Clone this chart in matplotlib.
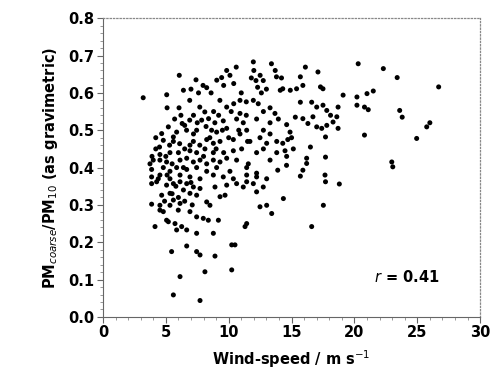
import numpy as np
import matplotlib.pyplot as plt
from matplotlib.ticker import MultipleLocator

# wind speed (m/s) and PMcoarse/PM10 ratio
wind_speed = [
    3.2, 6.07, 5.07, 5.1, 6.05, 6.4, 7.0, 7.4, 7.96, 8.25, 9.05, 9.44, 9.84, 10.1, 10.6,
    11.96, 12.0, 12.17, 12.5, 12.75, 13.4, 13.7, 13.8, 14.2, 14.1, 14.3, 14.9, 15.4, 15.9,
    15.7, 16.1, 17.1, 17.3, 17.5, 19.1, 20.3, 20.2, 21.0, 21.5, 22.3, 23.4, 26.7,
    20.2, 20.8, 21.1, 23.6, 23.8, 25.75, 26.0, 24.95, 20.8, 22.97, 23.05, 17.7, 17.7,
    17.7, 18.8, 16.5, 16.2, 15.9, 15.7, 13.9, 14.6, 15.0, 14.7, 14.3,
    15.9, 16.3, 16.7, 17.0, 17.5, 17.8, 18.1, 18.6, 18.7, 17.0, 17.4, 17.8, 18.3, 18.7,
    15.7, 16.6,
    9.6, 12.3, 13.0, 11.8, 10.4, 8.6, 7.6, 6.9, 11.0, 12.6,
    9.3, 9.84, 10.4, 10.9, 11.4, 11.96, 12.35,
    7.7, 8.1, 8.4, 7.85, 7.2, 6.9, 6.5, 6.3, 6.65,
    5.2, 4.67, 4.5, 4.8, 5.6, 6.1, 5.3,
    12.76, 13.29, 13.68, 10.9, 11.4,
    9.57, 10.63, 11.16, 12.22, 13.29, 13.95, 14.61, 8.9, 15.3,
    7.45, 8.64, 9.04, 9.84, 10.9, 11.43, 12.76, 13.29, 14.88, 7.2, 5.86, 4.2,
    7.19, 8.25, 8.78, 9.31, 10.37, 11.69, 12.49, 13.02, 13.82, 6.92, 5.6, 4.2,
    6.92, 7.45, 8.11, 8.78, 10.37, 11.03, 12.22, 12.76, 13.82, 14.48, 15.14, 5.33, 4.53, 3.9,
    4.0, 3.74, 4.53, 5.06, 6.13, 6.66, 7.19, 7.72, 8.25, 8.78, 9.31, 9.84, 10.63, 11.56,
    13.29, 14.61, 16.2,
    3.87, 4.8, 5.33, 5.86, 6.66, 7.45, 8.25, 9.04, 10.1, 11.43, 12.22,
    3.87, 4.53, 5.33, 6.13, 6.92, 7.72, 8.78, 9.57, 10.37, 11.43, 12.22, 13.02, 17.66,
    5.0, 5.5, 6.0, 6.4, 5.8, 6.4, 5.1, 4.4, 7.0, 6.0, 5.5, 6.5, 7.1, 4.9, 8.0, 7.7, 6.5,
    9.0, 9.6, 8.5, 9.5, 10.0, 10.8, 11.5, 8.2, 7.5, 8.8, 9.2, 10.2, 6.2, 5.7,
    3.87, 4.27, 5.06, 5.6, 6.13, 6.66, 7.19, 7.72, 6.92, 7.45, 5.33, 4.67, 5.6, 6.13, 5.33,
    4.53, 3.87, 4.14, 5.2, 5.73, 6.26, 6.66, 5.86, 5.06, 4.53, 4.8, 5.99, 6.92, 7.45, 7.98,
    8.38, 9.18, 7.45, 8.78, 8.25, 8.51, 8.91, 9.31, 9.71, 9.84, 10.63, 11.16, 11.43, 11.96,
    12.75, 12.22, 11.43, 11.3, 12.49, 13.02, 13.42, 14.35, 16.6, 17.53,
    5.46, 6.66, 7.45, 7.72, 8.91, 10.24, 10.5, 6.13, 8.11, 10.24, 5.6, 7.72,
]
ratio = [
    0.587, 0.647, 0.595, 0.56, 0.56, 0.607, 0.61, 0.635, 0.62, 0.614, 0.634, 0.641, 0.66, 0.647, 0.669,
    0.683, 0.66, 0.633, 0.647, 0.633, 0.678, 0.66, 0.643, 0.64, 0.607, 0.611, 0.607, 0.611, 0.62,
    0.643, 0.669, 0.656, 0.616, 0.611, 0.594, 0.678, 0.589, 0.598, 0.605, 0.665, 0.641, 0.616,
    0.567, 0.562, 0.555, 0.553, 0.535, 0.509, 0.52, 0.478, 0.487, 0.415, 0.402, 0.482, 0.428,
    0.362, 0.356, 0.455, 0.411, 0.393, 0.377, 0.393, 0.406, 0.48, 0.475, 0.465,
    0.531, 0.518, 0.536, 0.562, 0.567, 0.553, 0.54, 0.536, 0.562, 0.509, 0.505, 0.513, 0.522, 0.505,
    0.575, 0.575,
    0.62, 0.615, 0.61, 0.64, 0.625, 0.6, 0.6, 0.58, 0.6, 0.6,
    0.58, 0.562, 0.571, 0.58, 0.576, 0.58, 0.571,
    0.562, 0.549, 0.531, 0.527, 0.54, 0.527, 0.513, 0.518, 0.5,
    0.509, 0.491, 0.455, 0.473, 0.482, 0.464, 0.46,
    0.55, 0.56, 0.545, 0.545, 0.54,
    0.525, 0.53, 0.52, 0.53, 0.52, 0.53, 0.515, 0.52, 0.535,
    0.5, 0.5, 0.495, 0.505, 0.49, 0.5, 0.5, 0.49, 0.495, 0.49, 0.495, 0.48,
    0.47, 0.475, 0.465, 0.47, 0.475, 0.47, 0.48, 0.465, 0.47, 0.46, 0.47, 0.45,
    0.445, 0.44, 0.45, 0.44, 0.445, 0.45, 0.44, 0.45, 0.44, 0.445, 0.45, 0.44, 0.435, 0.43,
    0.42, 0.41, 0.42, 0.415, 0.42, 0.425, 0.415, 0.42, 0.41, 0.42, 0.415, 0.425, 0.42, 0.41,
    0.42, 0.43, 0.425,
    0.395, 0.4, 0.39, 0.4, 0.395, 0.4, 0.39, 0.4, 0.39, 0.4, 0.385,
    0.375, 0.38, 0.37, 0.38, 0.375, 0.37, 0.38, 0.375, 0.37, 0.38, 0.375, 0.37, 0.38,
    0.43, 0.41, 0.44, 0.4, 0.35, 0.34, 0.38, 0.37, 0.36, 0.32, 0.33, 0.31, 0.3, 0.31, 0.43, 0.46, 0.45,
    0.45, 0.44, 0.48, 0.5, 0.48, 0.5, 0.47, 0.51, 0.52, 0.55, 0.54, 0.55, 0.54, 0.53,
    0.357, 0.362, 0.353, 0.357, 0.362, 0.357, 0.348, 0.344, 0.331, 0.326, 0.331, 0.326, 0.313, 0.304, 0.299,
    0.299, 0.302, 0.242, 0.255, 0.25, 0.242, 0.233, 0.233, 0.259, 0.286, 0.282, 0.286, 0.282, 0.268, 0.264,
    0.259, 0.259, 0.224, 0.224, 0.308, 0.299, 0.348, 0.322, 0.326, 0.353, 0.357, 0.348, 0.362, 0.357,
    0.348, 0.335, 0.25, 0.242, 0.295, 0.299, 0.277, 0.317, 0.242, 0.299,
    0.175, 0.19, 0.175, 0.166, 0.163, 0.193, 0.193, 0.108, 0.121, 0.126, 0.059, 0.044,
]

plt.rcParams['font.family'] = ['DejaVu Sans']

fig = plt.figure(figsize=(4.95, 3.87), dpi=100)
ax = fig.add_axes([0.208, 0.181, 0.762, 0.772])

ax.scatter(wind_speed, ratio, s=13, color='black', edgecolors='none')

ax.set_xlim(0, 30)
ax.set_ylim(0, 0.8)
ax.xaxis.set_major_locator(MultipleLocator(5))
ax.xaxis.set_minor_locator(MultipleLocator(1))
ax.yaxis.set_major_locator(MultipleLocator(0.1))
ax.yaxis.set_minor_locator(MultipleLocator(0.02))
ax.yaxis.set_major_formatter(plt.FormatStrFormatter('%.1f'))

ax.tick_params(which='major', direction='out', length=4, width=0.8, color='#666666',
               labelsize=10.5, pad=2)
ax.tick_params(which='minor', direction='out', length=2, width=0.6, color='#888888')
for lab in ax.get_xticklabels() + ax.get_yticklabels():
    lab.set_fontweight('bold')

for side in ['left', 'bottom']:
    ax.spines[side].set_color('#666666')
    ax.spines[side].set_linewidth(0.8)
for side in ['top', 'right']:
    ax.spines[side].set_color('#888888')
    ax.spines[side].set_linestyle(':')
    ax.spines[side].set_linewidth(0.9)

ax.set_xlabel('Wind-speed / m s$^{-1}$', fontsize=10.5, fontweight='bold', labelpad=6)
ax.set_ylabel('PM$_{coarse}$/PM$_{10}$ (as gravimetric)', fontsize=10.5,
              fontweight='bold', labelpad=6)

ax.text(24.2, 0.108, '$r$ = 0.41', fontsize=10.5, fontweight='bold',
        ha='center', va='center')

fig.savefig('out.png', dpi=100)
